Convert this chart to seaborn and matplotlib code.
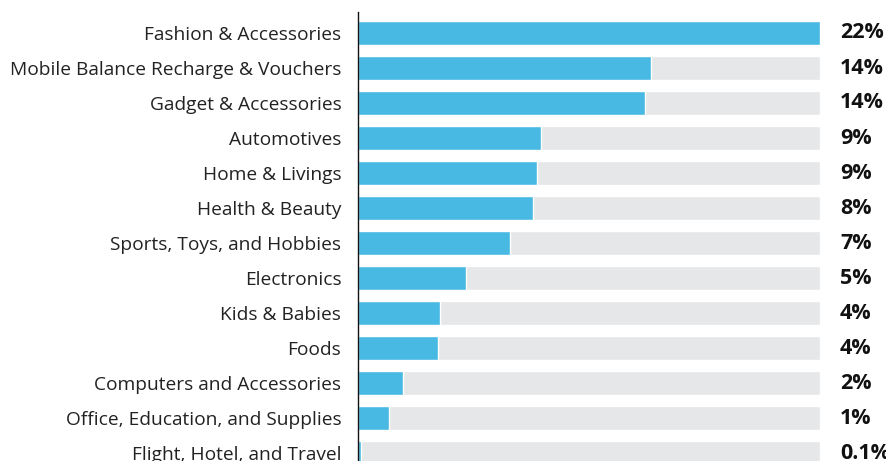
import matplotlib
matplotlib.use("Agg")
import matplotlib.pyplot as plt
import seaborn as sns
import pandas as pd

categories = ["Fashion & Accessories", "Mobile Balance Recharge & Vouchers",
              "Gadget & Accessories", "Automotives", "Home & Livings",
              "Health & Beauty", "Sports, Toys, and Hobbies", "Electronics",
              "Kids & Babies", "Foods", "Computers and Accessories",
              "Office, Education, and Supplies", "Flight, Hotel, and Travel"]
values = [22.0, 13.93, 13.65, 8.73, 8.54, 8.35, 7.25, 5.15, 3.91, 3.82, 2.15, 1.48, 0.14]
labels = ["22%", "14%", "14%", "9%", "9%", "8%", "7%", "5%", "4%", "4%", "2%", "1%", "0.1%"]

sns.set_theme(style="white")
plt.rcParams['font.family'] = ['Open Sans', 'DejaVu Sans']

df = pd.DataFrame({"category": categories, "value": values,
                   "full": [max(values)] * len(values)})

fig = plt.figure(figsize=(8.87, 4.61), dpi=100)
W, H = 887, 461
top_px, bot_px = 12, 474
ax = fig.add_axes([358 / W, (H - bot_px) / H, (820 - 358) / W, (bot_px - top_px) / H])

sns.barplot(data=df, y="category", x="full", color="#E6E7E8", width=0.714,
            ax=ax, orient="h", saturation=1)
sns.barplot(data=df, y="category", x="value", color="#47B9E3", width=0.714,
            ax=ax, orient="h", saturation=1)

ax.set_xlim(0, max(values))
ax.set_ylim(12.6, -0.6)
ax.set_xlabel("")
ax.set_ylabel("")
ax.set_xticks([])
for s in ["top", "right", "bottom"]:
    ax.spines[s].set_visible(False)
ax.spines["left"].set_color("#111111")
ax.spines["left"].set_linewidth(1.0)
ax.tick_params(axis="y", length=0, pad=12, labelsize=13.8, labelcolor="#222222")
for t in ax.get_yticklabels():
    t.set_y(t.get_position()[1])

for i, lab in enumerate(labels):
    ax.text(max(values) + 20 * 22 / 462, i, lab, ha="left", va="center",
            fontsize=15.5, fontweight="bold", color="#111111")

fig.savefig("out.png", dpi=100)
